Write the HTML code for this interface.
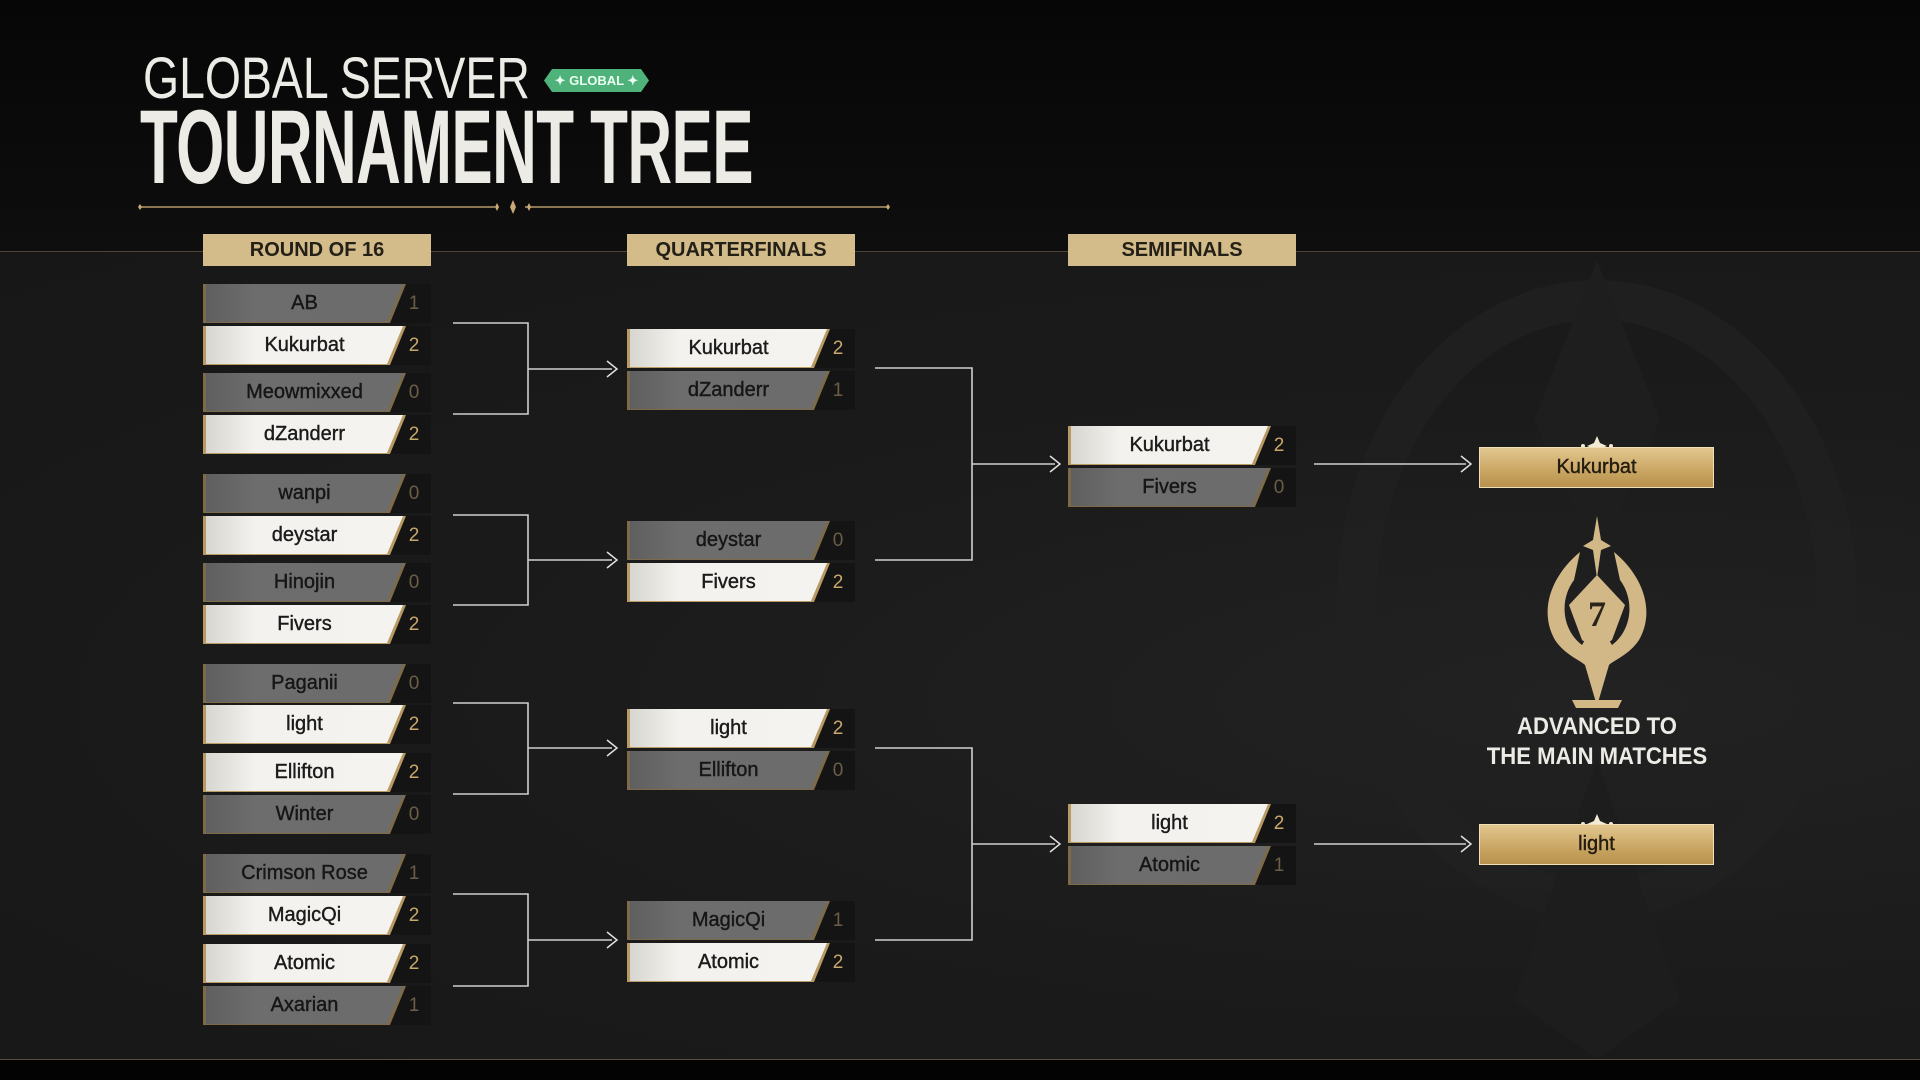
<!DOCTYPE html>
<html><head><meta charset="utf-8"><style>
*{margin:0;padding:0;box-sizing:border-box}
body{width:1920px;height:1080px;overflow:hidden;background:#1a1a1a;font-family:"Liberation Sans",sans-serif;position:relative}
.top{position:absolute;left:0;top:0;width:1920px;height:251px;background:linear-gradient(180deg,#060606,#0e0e0e)}
.hl{position:absolute;left:0;top:251px;width:1920px;height:1px;background:#4e4536}
.main{position:absolute;left:0;top:252px;width:1920px;height:807px;background:radial-gradient(ellipse at 1600px 450px,#222 0,#1b1b1b 45%,#171717 100%)}
.bot{position:absolute;left:0;top:1059px;width:1920px;height:21px;background:#030303;border-top:1px solid #5a4d38}
.t1{position:absolute;left:143px;top:45px;font-size:58px;color:#ecebe6;transform:scaleX(0.80);transform-origin:left top;white-space:nowrap}
.t2{position:absolute;left:140px;top:88px;font-size:105px;font-weight:bold;color:#ecebe6;transform:scaleX(0.59);transform-origin:left top;white-space:nowrap;letter-spacing:-1px}
.badge{position:absolute;left:544px;top:69px;width:105px;height:23px;background:#4fb27a;clip-path:polygon(8px 0,calc(100% - 8px) 0,100% 50%,calc(100% - 8px) 100%,8px 100%,0 50%);color:#eafff2;font-size:13px;font-weight:bold;text-align:center;line-height:23px}
.hd{position:absolute;width:228px;height:32px;background:#d3bb8a;color:#232017;font-weight:bold;font-size:20px;text-align:center;line-height:32px}
.r{position:absolute;width:228px;height:39px;background:#141414}
.r::before{content:"";position:absolute;left:0;top:0;width:203px;height:100%;background:#b89a62;clip-path:polygon(0 0,100% 0,calc(100% - 16px) 100%,0 100%)}
.l::before{background:#7d6a49}
.n{position:absolute;left:0;top:0;width:200px;height:38px;clip-path:polygon(0 0,100% 0,calc(100% - 16px) 100%,0 100%);text-align:center;line-height:38px;font-size:20px;border-left:3px solid #b89a62;-webkit-text-stroke:0.4px currentColor}
.w .n{background:linear-gradient(90deg,#d8d6d0,#f3f2ee 25%,#f4f3ef);color:#1b1b1b}
.l .n{background:linear-gradient(90deg,#5f5f5f,#6d6d6d 25%,#6c6c6c);color:#161616;border-left-color:#7d6a49}
.r .s{position:absolute;left:197px;top:0;width:28px;height:39px;text-align:center;line-height:39px;font-size:19px}
.w .s{color:#c9a86c}
.l .s{color:#6b5d46}
.gold{position:absolute;left:1479px;width:235px;height:41px;background:linear-gradient(180deg,#e2c78f,#c9a562 60%,#b8914e);border:1px solid #efe0b8;color:#231c10;font-size:20px;text-align:center;line-height:39px;-webkit-text-stroke:0.4px currentColor}
.adv{position:absolute;left:1447px;top:712px;width:300px;text-align:center;color:#ecebe6;font-weight:bold;font-size:24px;line-height:30px;transform:scaleX(0.92)}
</style></head><body>
<div class="top"></div><div class="hl"></div><div class="main"></div><div class="bot"></div>
<svg style="position:absolute;left:0;top:0" width="1920" height="1080">
 <g fill="none" stroke="#202020" stroke-width="40" opacity="0.8">
  <ellipse cx="1597" cy="600" rx="240" ry="300"/>
 </g>
 <path d="M1597 260 L1660 420 L1597 560 L1534 420Z" fill="#1e1e1e"/>
 <path d="M1597 760 L1680 1000 L1597 1059 L1514 1000Z" fill="#1d1d1d"/>
 <g stroke="#b39a6a" stroke-width="1.5"><line x1="140" y1="207" x2="495" y2="207"/><line x1="525" y1="207" x2="888" y2="207"/></g>
 <g fill="#c7ab74"><path d="M513 200 L516 207 L513 214 L510 207Z"/><path d="M497 203 L499 207 L497 211 L495 207Z"/><path d="M529 203 L531 207 L529 211 L527 207Z"/><path d="M140 204 L142 207 L140 210 L138 207Z"/><path d="M888 204 L890 207 L888 210 L886 207Z"/></g>
 <g fill="none" stroke="#cfcfcf" stroke-width="1.6">
  <path d="M453 323 H528 V414 H453 M528 369 H612"/>
  <path d="M453 515 H528 V605 H453 M528 560 H612"/>
  <path d="M453 703 H528 V794 H453 M528 748 H612"/>
  <path d="M453 894 H528 V986 H453 M528 940 H612"/>
  <path d="M875 368 H972 V560 H875 M972 464 H1055"/>
  <path d="M875 748 H972 V940 H875 M972 844 H1055"/>
  <path d="M1314 464 H1466"/><path d="M1314 844 H1466"/>
 </g>
 <g fill="none" stroke="#e0e0e0" stroke-width="1.5">
  <path d="M607 361 L617 369 L607 377"/><path d="M607 552 L617 560 L607 568"/><path d="M607 740 L617 748 L607 756"/><path d="M607 932 L617 940 L607 948"/>
  <path d="M1050 456 L1060 464 L1050 472"/><path d="M1050 836 L1060 844 L1050 852"/>
  <path d="M1461 456 L1471 464 L1461 472"/><path d="M1461 836 L1471 844 L1461 852"/>
 </g>
 <g fill="#f3ead4">
  <path d="M1597 436 L1600 443 L1607 446 L1600 449 L1597 456 L1594 449 L1587 446 L1594 443Z"/><circle cx="1583" cy="446" r="2"/><circle cx="1611" cy="446" r="2"/>
  <path d="M1597 814 L1600 821 L1607 824 L1600 827 L1597 834 L1594 827 L1587 824 L1594 821Z"/><circle cx="1583" cy="824" r="2"/><circle cx="1611" cy="824" r="2"/>
 </g>
 <g fill="#d3b887">
  <path d="M1597 516 L1601 540 L1611 546 L1601 550 L1597 578 L1593 550 L1583 546 L1593 540Z"/>
  <path d="M1580 552 C1552 575 1538 610 1555 640 C1565 655 1580 660 1585 665 L1597 706 L1609 665 C1614 660 1629 655 1639 640 C1656 610 1642 575 1614 552 L1620 580 C1635 600 1632 630 1612 645 L1597 620 L1582 645 C1562 630 1559 600 1574 580Z"/>
  <path d="M1597 575 L1625 605 L1612 640 L1597 650 L1582 640 L1569 605Z"/>
  <path d="M1572 700 L1622 700 L1618 708 L1576 708Z"/>
 </g>
 <text x="1597" y="626" text-anchor="middle" font-family="Liberation Serif,serif" font-weight="bold" font-size="36" fill="#2a241a">7</text>
</svg>
<div class="t1">GLOBAL SERVER</div>
<div class="badge">✦ GLOBAL ✦</div>
<div class="t2">TOURNAMENT TREE</div>

<div class="hd" style="left:203px;top:234px">ROUND OF 16</div>
<div class="hd" style="left:627px;top:234px">QUARTERFINALS</div>
<div class="hd" style="left:1068px;top:234px">SEMIFINALS</div>

<div class="r l" style="left:203px;top:284px"><div class="n">AB</div><div class="s">1</div></div>
<div class="r w" style="left:203px;top:326px"><div class="n">Kukurbat</div><div class="s">2</div></div>
<div class="r l" style="left:203px;top:373px"><div class="n">Meowmixxed</div><div class="s">0</div></div>
<div class="r w" style="left:203px;top:415px"><div class="n">dZanderr</div><div class="s">2</div></div>
<div class="r l" style="left:203px;top:474px"><div class="n">wanpi</div><div class="s">0</div></div>
<div class="r w" style="left:203px;top:516px"><div class="n">deystar</div><div class="s">2</div></div>
<div class="r l" style="left:203px;top:563px"><div class="n">Hinojin</div><div class="s">0</div></div>
<div class="r w" style="left:203px;top:605px"><div class="n">Fivers</div><div class="s">2</div></div>
<div class="r l" style="left:203px;top:664px"><div class="n">Paganii</div><div class="s">0</div></div>
<div class="r w" style="left:203px;top:705px"><div class="n">light</div><div class="s">2</div></div>
<div class="r w" style="left:203px;top:753px"><div class="n">Ellifton</div><div class="s">2</div></div>
<div class="r l" style="left:203px;top:795px"><div class="n">Winter</div><div class="s">0</div></div>
<div class="r l" style="left:203px;top:854px"><div class="n">Crimson Rose</div><div class="s">1</div></div>
<div class="r w" style="left:203px;top:896px"><div class="n">MagicQi</div><div class="s">2</div></div>
<div class="r w" style="left:203px;top:944px"><div class="n">Atomic</div><div class="s">2</div></div>
<div class="r l" style="left:203px;top:986px"><div class="n">Axarian</div><div class="s">1</div></div>

<div class="r w" style="left:627px;top:329px"><div class="n">Kukurbat</div><div class="s">2</div></div>
<div class="r l" style="left:627px;top:371px"><div class="n">dZanderr</div><div class="s">1</div></div>
<div class="r l" style="left:627px;top:521px"><div class="n">deystar</div><div class="s">0</div></div>
<div class="r w" style="left:627px;top:563px"><div class="n">Fivers</div><div class="s">2</div></div>
<div class="r w" style="left:627px;top:709px"><div class="n">light</div><div class="s">2</div></div>
<div class="r l" style="left:627px;top:751px"><div class="n">Ellifton</div><div class="s">0</div></div>
<div class="r l" style="left:627px;top:901px"><div class="n">MagicQi</div><div class="s">1</div></div>
<div class="r w" style="left:627px;top:943px"><div class="n">Atomic</div><div class="s">2</div></div>

<div class="r w" style="left:1068px;top:426px"><div class="n">Kukurbat</div><div class="s">2</div></div>
<div class="r l" style="left:1068px;top:468px"><div class="n">Fivers</div><div class="s">0</div></div>
<div class="r w" style="left:1068px;top:804px"><div class="n">light</div><div class="s">2</div></div>
<div class="r l" style="left:1068px;top:846px"><div class="n">Atomic</div><div class="s">1</div></div>

<div class="gold" style="top:447px">Kukurbat</div>
<div class="gold" style="top:824px">light</div>
<div class="adv">ADVANCED TO<br>THE MAIN MATCHES</div>
</body></html>
